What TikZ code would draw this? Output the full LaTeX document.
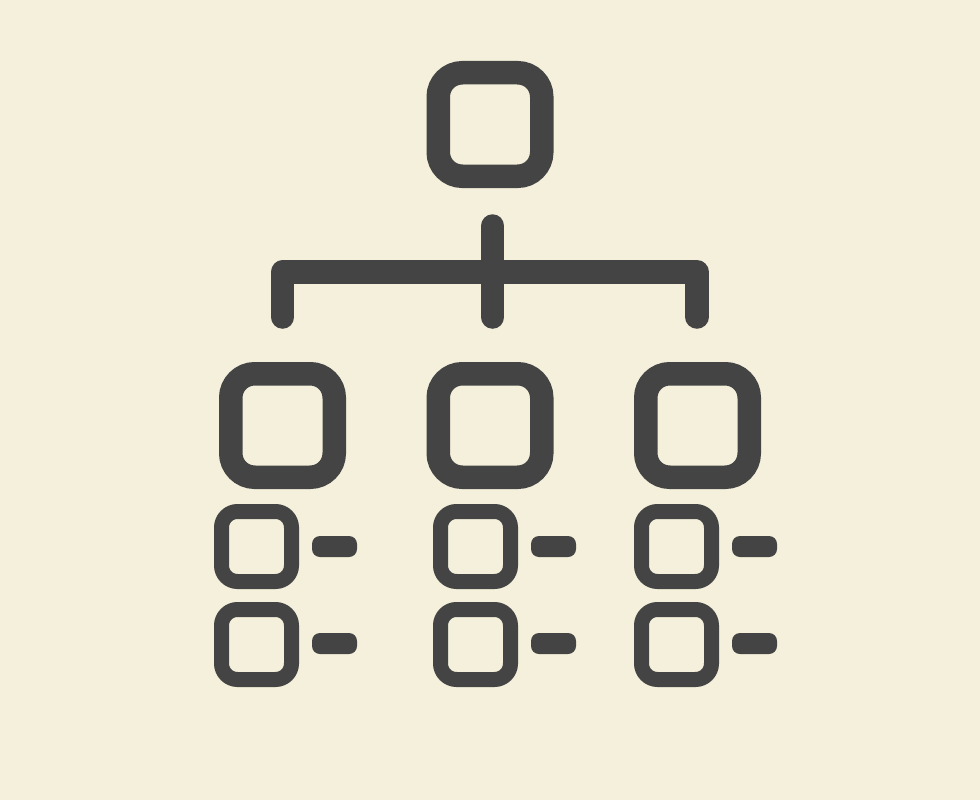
\documentclass[tikz,border=0pt]{standalone}
\usepackage{xcolor}
\definecolor{PaperColor}{RGB}{244,240,220}
\definecolor{IconColor}{RGB}{68,68,68}
\begin{document}
\begin{tikzpicture}[x=1pt,y=-1pt,
   bigbox/.style={draw=IconColor,line width=23.5pt,rectangle,rounded corners=24pt,minimum width=103.5pt,minimum height=103.5pt,inner sep=0pt},
   smallbox/.style={draw=IconColor,line width=15pt,rectangle,rounded corners=16pt,minimum width=70pt,minimum height=70pt,inner sep=0pt},
   dashbox/.style={fill=IconColor,rectangle,rounded corners=8pt,minimum width=45pt,minimum height=21pt,inner sep=0pt,outer sep=0pt},
   wire/.style={draw=IconColor,line width=23.5pt,line cap=round,line join=round}]
\fill[PaperColor] (0,0) rectangle (980,800);
\useasboundingbox (0,0) rectangle (980,800);
\node[bigbox](root) at(490,124.5) {};
\foreach \n/\x in {a/282.5,b/490,c/697.5} {
   \node[bigbox](mid\n) at(\x,425.5) {};
}
% small boxes, two in each column
\foreach \n/\x/\d in {a/256.5/334.5,b/475.5/553.5,c/676.5/754.5} {
   \node[smallbox](item\n1) at(\x,546.5) {};
   \node[smallbox](item\n2) at(\x,644.5) {};
   \node[dashbox](dash\n1) at(\d,546.5) {};
   \node[dashbox](dash\n2) at(\d,643.5) {};
}
\coordinate (stemtop) at (492.7,226);
\coordinate (stembot) at (492.7,317);
\coordinate (barleft) at (282.7,272);
\coordinate (barright) at (697,272);
\coordinate (legleft) at (282.7,317);
\coordinate (legright) at (697,317);
\draw[wire] (stemtop) -- (stembot);
\draw[wire] (legleft) -- (barleft) -- (barright) -- (legright);
\end{tikzpicture}
\end{document}
